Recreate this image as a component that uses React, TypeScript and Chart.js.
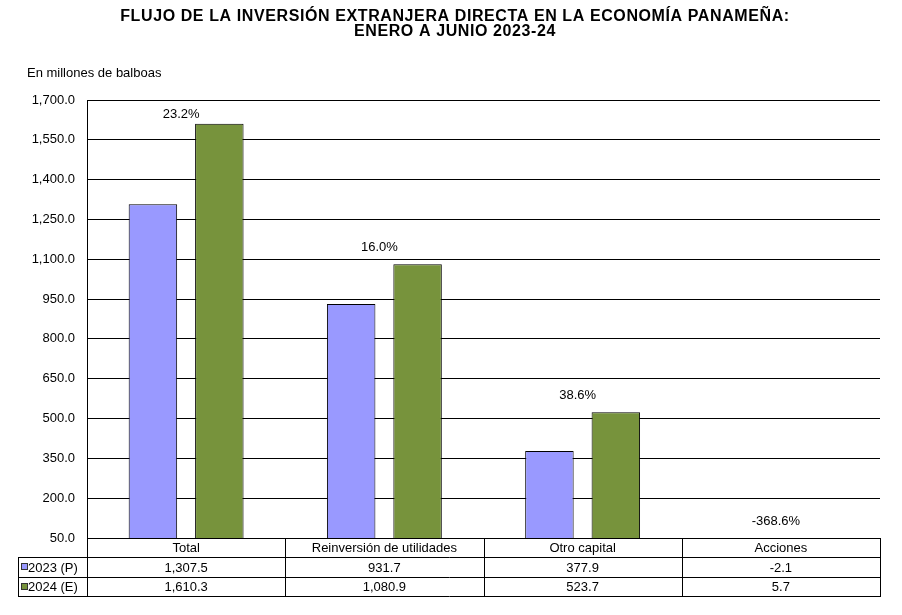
import { useEffect, useRef } from "react";
import { Chart, registerables } from "chart.js";

Chart.register(...registerables);

const categories = ["Total", "Reinversión de utilidades", "Otro capital", "Acciones"];
const seriesLabels = ["2023 (P)", "2024 (E)"];
const values2023 = [1307.5, 931.7, 377.9, -2.1];
const values2024 = [1610.3, 1080.9, 523.7, 5.7];
const variationLabels = ["23.2%", "16.0%", "38.6%", "-368.6%"];
const titleLines = [
  "FLUJO DE LA INVERSIÓN EXTRANJERA DIRECTA EN LA ECONOMÍA PANAMEÑA:",
  "ENERO A JUNIO 2023-24",
];
const unitLabel = "En millones de balboas";
const yMin = 50;
const yMax = 1700;
const yStep = 150;

const COLORS = ["#9999FF", "#77933C"];
const FONT = "'Liberation Sans', Arial, sans-serif";

const fmt = (v: number) =>
  v.toLocaleString("en-US", { minimumFractionDigits: 1, maximumFractionDigits: 1 });

const overlayPlugin = {
  id: "overlay",
  afterDraw(chart: any) {
    const ctx: CanvasRenderingContext2D = chart.ctx;
    const area = chart.chartArea;
    const xs = chart.scales.x;
    const ys = chart.scales.y;
    ctx.save();
    ctx.fillStyle = "#000";

    // Title
    ctx.font = `bold 16px ${FONT}`;
    (ctx as any).letterSpacing = "0.6px";
    ctx.textAlign = "center";
    ctx.textBaseline = "middle";
    ctx.fillText(titleLines[0], 455, 17);
    ctx.fillText(titleLines[1], 455, 32);
    (ctx as any).letterSpacing = "0px";

    // Unit label
    ctx.font = `13px ${FONT}`;
    ctx.textAlign = "left";
    ctx.fillText(unitLabel, 27, 73);

    // Variation labels
    ctx.textAlign = "center";
    const catW = (area.right - area.left) / categories.length;
    variationLabels.forEach((lab, i) => {
      const top = Math.max(yMin, values2023[i], values2024[i]);
      const py = Math.max(area.top + 14, ys.getPixelForValue(top) - 17);
      ctx.fillText(lab, xs.getPixelForValue(i) - 5, py);
    });

    // Data table
    const rowH = 19.4;
    const t0 = area.bottom;
    const t1 = t0 + rowH;
    const t2 = t1 + rowH;
    const t3 = t2 + rowH;
    const legLeft = 18;
    ctx.fillStyle = "#fff";
    ctx.fillRect(area.left, t0 + 0.5, area.right - area.left, t3 - t0);
    ctx.fillRect(legLeft, t1, area.left - legLeft, t3 - t1);

    ctx.strokeStyle = "#000";
    ctx.lineWidth = 1;
    const hline = (x1: number, x2: number, y: number) => {
      const yy = Math.round(y) + 0.5;
      ctx.beginPath();
      ctx.moveTo(x1, yy);
      ctx.lineTo(x2, yy);
      ctx.stroke();
    };
    const vline = (x: number, y1: number, y2: number) => {
      const xx = Math.round(x) + 0.5;
      ctx.beginPath();
      ctx.moveTo(xx, Math.round(y1) + 0.5);
      ctx.lineTo(xx, Math.round(y2) + 0.5);
      ctx.stroke();
    };
    hline(area.left, area.right + 1, t0);
    hline(legLeft, area.right + 1, t1);
    hline(legLeft, area.right + 1, t2);
    hline(legLeft, area.right + 1, t3);
    vline(legLeft, t1, t3);
    for (let i = 0; i <= categories.length; i++) {
      vline(area.left + i * catW, t0, t3);
    }

    ctx.fillStyle = "#000";
    ctx.font = `13px ${FONT}`;
    ctx.textAlign = "center";
    ctx.textBaseline = "middle";
    categories.forEach((c, i) => {
      const cx = area.left + (i + 0.5) * catW;
      ctx.fillText(c, cx, (t0 + t1) / 2 + 1);
      ctx.fillText(fmt(values2023[i]), cx, (t1 + t2) / 2 + 1);
      ctx.fillText(fmt(values2024[i]), cx, (t2 + t3) / 2 + 1);
    });

    // Legend keys
    [t1, t2].forEach((ry, k) => {
      const cy = ry + rowH / 2;
      ctx.fillStyle = COLORS[k];
      ctx.fillRect(22, Math.round(cy) - 3, 5, 5);
      ctx.strokeStyle = "#333";
      ctx.strokeRect(21.5, Math.round(cy) - 3.5, 6, 6);
      ctx.fillStyle = "#000";
      ctx.textAlign = "left";
      ctx.fillText(seriesLabels[k], 28, cy + 1);
    });

    ctx.restore();
  },
};

export default function App() {
  const ref = useRef<HTMLCanvasElement | null>(null);

  useEffect(() => {
    if (!ref.current) return;
    const chart = new Chart(ref.current, {
      type: "bar",
      data: {
        labels: categories,
        datasets: [
          {
            label: seriesLabels[0],
            data: values2023,
            backgroundColor: COLORS[0],
            borderColor: "#000",
            borderWidth: 1,
            categoryPercentage: 0.67,
            barPercentage: 0.73,
          },
          {
            label: seriesLabels[1],
            data: values2024,
            backgroundColor: COLORS[1],
            borderColor: "#000",
            borderWidth: 1,
            categoryPercentage: 0.67,
            barPercentage: 0.73,
          },
        ],
      },
      options: {
        responsive: false,
        animation: false,
        layout: { padding: { top: 100, right: 22, bottom: 77, left: 0 } },
        plugins: {
          legend: { display: false },
          title: { display: false },
          tooltip: { enabled: false },
        },
        scales: {
          x: { display: false },
          y: {
            min: yMin,
            max: yMax,
            afterFit: (s: any) => {
              s.width = 87;
            },
            ticks: {
              stepSize: yStep,
              padding: 12,
              color: "#000",
              font: { family: FONT, size: 13 },
              callback: (v: any) => fmt(Number(v)),
            },
            grid: { color: "#000", lineWidth: 1, drawTicks: false },
            border: { display: true, color: "#000", width: 1 },
          },
        },
      },
      plugins: [overlayPlugin],
    });
    return () => chart.destroy();
  }, []);

  return (
    <div style={{ position: "absolute", left: 0, top: 0, width: 902, height: 615, background: "#fff" }}>
      <canvas ref={ref} width={902} height={615} style={{ display: "block" }} />
    </div>
  );
}
